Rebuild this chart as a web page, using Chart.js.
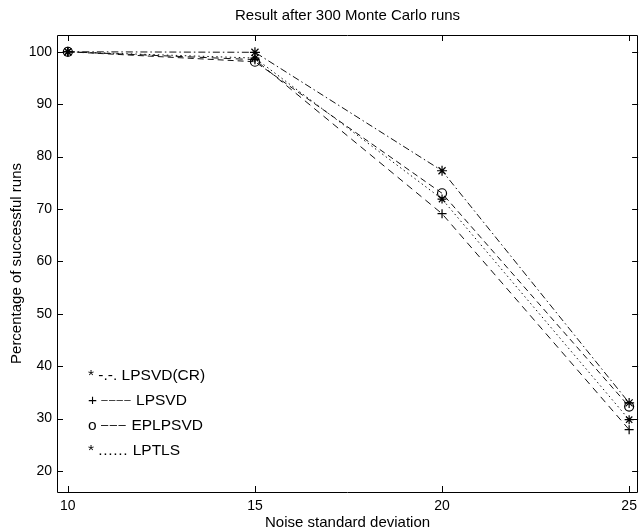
<!DOCTYPE html>
<html>
<head>
<meta charset="utf-8">
<script src="https://cdn.jsdelivr.net/npm/chart.js@4/dist/chart.umd.min.js"></script>
<style>
  html, body { margin: 0; padding: 0; background: #fff; }
  #wrap { width: 643px; height: 530px; }
</style>
</head>
<body>
<div id="wrap"><canvas id="c" width="643" height="530"></canvas></div>
<script>
// ---- data ----
const noiseStd   = [10, 15, 20, 25];
const lpsvdCR    = [100, 99.9, 77.3, 33.0];
const lpsvd      = [100, 98.5, 69.1, 27.9];
const eplpsvd    = [100, 98.1, 73.0, 32.3];
const lptls      = [100, 98.8, 71.9, 29.8];
const seriesNames = ['LPSVD(CR)', 'LPSVD', 'EPLPSVD', 'LPTLS'];
const legendMarks = ['*', '+', 'o', '*'];
const legendStyles = ['-.-.', '\u2013\u2013\u2013\u2013', '\u2013\u2013\u2013', '......'];
const xTicks = [10, 15, 20, 25];
const yTicks = [20, 30, 40, 50, 60, 70, 80, 90, 100];

const FONT = "'Liberation Sans', Arial, Helvetica, sans-serif";
const toPts = ys => noiseStd.map((x, i) => ({ x: x, y: ys[i] }));

// how each legend line-style sample is typeset (font size, letter spacing, raise)
const styleType = [
  { size: 15.5, spacing: 0, raise: 0 },
  { size: 11.5, spacing: 1.2, raise: 1.5 },
  { size: 13, spacing: 1.5, raise: 1 },
  { size: 15.5, spacing: 0.7, raise: 0 }
];

const boxPlugin = {
  id: 'matlabBox',
  afterDraw(chart) {
    const ctx = chart.ctx;
    const a = chart.chartArea;
    const xs = chart.scales.x, ys = chart.scales.y;
    const L = 6;
    ctx.save();
    ctx.strokeStyle = '#000';
    ctx.lineWidth = 1;
    ctx.beginPath();
    ctx.rect(Math.round(a.left) + 0.5, Math.round(a.top) + 0.5,
             Math.round(a.right - a.left) - 1, Math.round(a.bottom - a.top));
    ctx.stroke();
    ctx.beginPath();
    xTicks.forEach(v => {
      const px = Math.round(xs.getPixelForValue(v)) + 0.5;
      ctx.moveTo(px, a.bottom); ctx.lineTo(px, a.bottom - L);
      ctx.moveTo(px, a.top); ctx.lineTo(px, a.top + L);
    });
    yTicks.forEach(v => {
      const py = Math.round(ys.getPixelForValue(v)) + 0.5;
      ctx.moveTo(a.left, py); ctx.lineTo(a.left + L, py);
      ctx.moveTo(a.right, py); ctx.lineTo(a.right - L, py);
    });
    ctx.stroke();
    // text legend inside the axes (MATLAB style)
    ctx.fillStyle = '#000';
    ctx.textBaseline = 'alphabetic';
    ctx.textAlign = 'left';
    seriesNames.forEach((n, i) => {
      const base = a.top + 344.5 + i * 25.3;
      let x = a.left + 31;
      ctx.letterSpacing = '0px';
      ctx.font = '15.5px ' + FONT;
      const p1 = legendMarks[i] + ' ';
      ctx.fillText(p1, x, base);
      x += ctx.measureText(p1).width;
      const st = styleType[i];
      ctx.font = st.size + 'px ' + FONT;
      ctx.letterSpacing = st.spacing + 'px';
      ctx.fillText(legendStyles[i], x, base - st.raise);
      x += ctx.measureText(legendStyles[i]).width;
      ctx.letterSpacing = '0px';
      ctx.font = '15.5px ' + FONT;
      ctx.fillText(' ' + n, x, base);
    });
    ctx.restore();
  }
};

const mk = (label, data, dash, style, r) => ({
  label: label,
  data: toPts(data),
  borderColor: '#111',
  backgroundColor: 'rgba(0,0,0,0)',
  borderWidth: 1,
  borderDash: dash,
  pointStyle: style,
  pointRadius: r,
  pointBorderColor: '#000',
  pointBorderWidth: 1.2,
  pointBackgroundColor: 'rgba(0,0,0,0)',
  tension: 0,
  fill: false
});

new Chart(document.getElementById('c'), {
  type: 'line',
  data: {
    datasets: [
      mk(seriesNames[0], lpsvdCR, [7, 3, 1.5, 3], 'star', 5),
      mk(seriesNames[1], lpsvd, [7, 5], 'cross', 4.5),
      mk(seriesNames[2], eplpsvd, [6, 4], 'circle', 4.5),
      mk(seriesNames[3], lptls, [1.5, 3], 'star', 4.5)
    ]
  },
  options: {
    responsive: false,
    animation: false,
    layout: { autoPadding: false, padding: { left: 0, right: 2, top: 0, bottom: 0 } },
    plugins: {
      legend: { display: false },
      tooltip: { enabled: false },
      title: {
        display: true,
        text: 'Result after 300 Monte Carlo runs',
        fullSize: false,
        color: '#000',
        font: { family: FONT, size: 15, weight: 'normal', lineHeight: 1.2 },
        padding: { top: 7, bottom: 10 }
      }
    },
    scales: {
      x: {
        type: 'linear',
        min: 9.71, max: 25.24,
        afterBuildTicks: s => { s.ticks = xTicks.map(v => ({ value: v })); },
        afterFit: s => { s.height = 38; },
        grid: { display: false, drawTicks: false },
        border: { display: false },
        ticks: { color: '#000', padding: 6, font: { family: FONT, size: 14 }, maxRotation: 0, autoSkip: false },
        title: {
          display: true, text: 'Noise standard deviation', color: '#000',
          font: { family: FONT, size: 15, lineHeight: 1.0 }, padding: { top: 0, bottom: 0 }
        }
      },
      y: {
        type: 'linear',
        min: 16, max: 103.2,
        afterBuildTicks: s => { s.ticks = yTicks.map(v => ({ value: v })); },
        afterFit: s => { s.width = 57; },
        grid: { display: false, drawTicks: false },
        border: { display: false },
        ticks: { color: '#000', padding: 5, font: { family: FONT, size: 14 }, autoSkip: false },
        title: {
          display: true, text: 'Percentage of successful runs', color: '#000',
          font: { family: FONT, size: 15, lineHeight: 1.2 }, padding: { top: 8, bottom: 0 }
        }
      }
    }
  },
  plugins: [boxPlugin]
});
</script>
</body>
</html>
